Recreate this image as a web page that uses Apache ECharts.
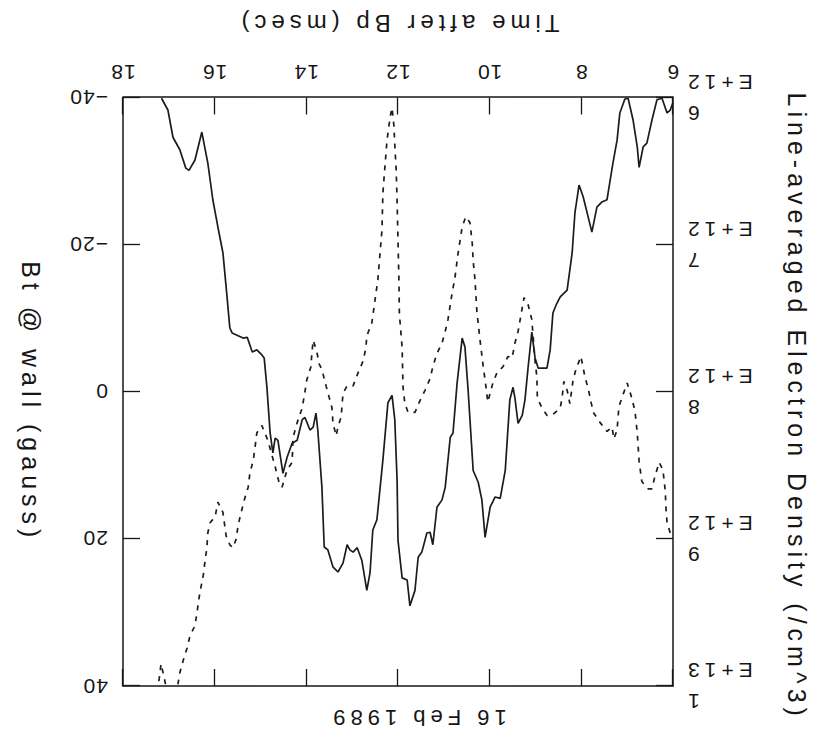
<!DOCTYPE html>
<html>
<head>
<meta charset="utf-8">
<script src="https://cdn.jsdelivr.net/npm/echarts@6/dist/echarts.min.js"></script>
<style>
  html, body { margin: 0; padding: 0; background: #fff; }
  /* The plot is drawn upright and then turned half a revolution, as on the printed page. */
  #chart { width: 835px; height: 743px; transform: rotate(180deg); }
  /* Wide plotter lettering for titles and exponent labels. */
  #chart text[style*="Helvetica"] { letter-spacing: 5px; }
  #chart text[style*="Tahoma"] { letter-spacing: 1px; }
</style>
</head>
<body>
<div id="chart"></div>
<script>
// ---- labels ----
const chartTitle = '16 Feb 1989';
const timeAxisName = 'Time after Bp (msec)';
const densityAxisName = 'Line-averaged Electron Density (/cm^3)';
const fieldAxisName = 'Bt @ wall (gauss)';

// ---- tick labels ----
const densityTicks = [6e12, 7e12, 8e12, 9e12, 1e13];
const densityTickLabels = ['6E+12', '7E+12', '8E+12', '9E+12', '1E+13'];
const fieldTicks = [-40, -20, 0, 20, 40];
const fieldTickLabels = ['\u221240', '\u221220', '0', '20', '40'];

// ---- Bt at the wall (gauss), solid trace ----
const fieldTime = [17.16,17.02,16.91,16.76,16.63,16.56,16.43,16.28,16.15,16.04,
  15.93,15.82,15.73,15.67,15.62,15.38,15.29,15.18,15.08,14.97,
  14.92,14.86,14.79,14.73,14.68,14.62,14.51,14.42,14.31,14.20,
  14.09,14.03,13.92,13.85,13.79,13.75,13.66,13.61,13.53,13.42,
  13.31,13.20,13.11,13.05,12.98,12.89,12.79,12.68,12.61,12.55,
  12.46,12.33,12.22,12.13,12.07,12.02,12.00,11.91,11.80,11.74,
  11.63,11.56,11.48,11.37,11.30,11.24,11.15,11.04,10.97,10.86,
  10.80,10.71,10.60,10.54,10.47,10.36,10.25,10.17,10.10,9.99,
  9.88,9.77,9.66,9.56,9.49,9.45,9.38,9.29,9.23,9.16,
  9.08,9.01,8.94,8.75,8.68,8.62,8.55,8.46,8.31,8.20,
  8.14,8.05,7.96,7.77,7.66,7.55,7.44,7.37,7.31,7.22,
  7.16,7.05,6.98,6.87,6.78,6.74,6.65,6.57,6.46,6.35,
  6.24,6.13,6.06,6.00];
const fieldGauss = [-39.9,-38.3,-34.6,-32.9,-30.4,-30.1,-31.5,-35.3,-31.1,-26.1,
  -22.4,-18.9,-12.9,-8.7,-8.0,-7.3,-7.4,-5.4,-5.7,-5.0,
  -4.6,-0.6,5.6,8.3,6.3,6.6,11.1,8.9,7.0,6.6,
  3.8,3.5,5.2,4.8,2.9,5.2,13.0,21.1,21.5,23.8,
  24.5,23.3,20.8,21.5,21.8,21.2,22.9,27.0,24.6,18.8,
  17.4,9.3,1.5,0.5,3.8,12.0,20.2,25.3,25.6,29.1,
  27.0,22.5,21.8,19.2,19.1,20.8,15.7,14.7,13.0,6.2,
  5.6,-1.2,-7.3,-6.1,-0.2,10.7,12.3,14.7,19.8,15.7,
  14.3,14.5,10.7,1.1,-0.6,0.8,4.3,3.2,1.1,-3.4,
  -8.1,-4.6,-3.2,-3.2,-5.7,-10.7,-11.8,-12.9,-13.8,-18.9,
  -24.3,-28.1,-26.5,-21.7,-25.1,-25.8,-26.1,-28.8,-31.1,-34.2,
  -37.9,-39.8,-39.9,-36.9,-33.3,-30.5,-33.3,-33.8,-36.9,-39.7,
  -39.9,-37.9,-38.3,-39.3];

// ---- line-averaged electron density (/cm^3), dashed trace ----
const densityTime = [17.26,17.21,17.17,17.11,17.04,16.84,16.76,16.69,16.60,16.54,
  16.43,16.39,16.34,16.30,16.25,16.21,16.17,16.15,16.10,15.99,
  15.93,15.82,15.75,15.67,15.60,15.53,15.49,15.43,15.34,15.27,
  15.23,15.16,15.12,15.08,14.97,14.84,14.68,14.60,14.53,14.42,
  14.31,14.29,14.20,14.09,14.03,13.99,13.90,13.88,13.85,13.77,
  13.72,13.66,13.57,13.50,13.44,13.42,13.35,13.31,13.24,13.20,
  13.11,12.98,12.87,12.76,12.70,12.68,12.57,12.44,12.35,12.33,
  12.28,12.24,12.17,12.13,12.09,12.07,12.04,12.02,12.00,11.98,
  11.97,11.91,11.89,11.85,11.78,11.63,11.52,11.41,11.30,11.24,
  11.15,11.04,10.97,10.91,10.82,10.76,10.69,10.60,10.52,10.43,
  10.38,10.36,10.32,10.28,10.21,10.14,10.10,10.04,9.99,9.93,
  9.84,9.71,9.60,9.51,9.45,9.38,9.25,9.16,9.08,9.01,
  8.97,8.96,8.86,8.75,8.64,8.53,8.46,8.42,8.38,8.31,
  8.25,8.18,8.12,8.01,7.92,7.85,7.74,7.59,7.44,7.33,
  7.29,7.22,7.18,7.09,7.00,6.92,6.83,6.78,6.74,6.68,
  6.54,6.46,6.39,6.30,6.22,6.17,6.15,6.13,6.06,6.00];
const densityValue = [10.04e12,9.95e12,9.85e12,9.93e12,10.04e12,10.06e12,9.91e12,9.83e12,9.74e12,9.66e12,
  9.59e12,9.51e12,9.40e12,9.33e12,9.25e12,9.15e12,9.06e12,8.96e12,8.89e12,8.85e12,
  8.75e12,8.82e12,8.98e12,9.04e12,9.06e12,9.00e12,8.91e12,8.83e12,8.72e12,8.65e12,
  8.55e12,8.47e12,8.38e12,8.28e12,8.23e12,8.33e12,8.51e12,8.61e12,8.65e12,8.53e12,
  8.48e12,8.31e12,8.21e12,8.11e12,8.00e12,7.92e12,7.83e12,7.74e12,7.65e12,7.73e12,
  7.81e12,7.85e12,7.96e12,8.04e12,8.11e12,8.21e12,8.30e12,8.24e12,8.17e12,8.01e12,
  7.96e12,7.96e12,7.87e12,7.79e12,7.70e12,7.62e12,7.53e12,7.24e12,6.90e12,6.65e12,
  6.45e12,6.29e12,6.13e12,6.07e12,6.19e12,6.32e12,6.49e12,6.70e12,6.97e12,7.24e12,
  7.47e12,7.70e12,7.97e12,8.08e12,8.14e12,8.14e12,8.06e12,7.99e12,7.91e12,7.83e12,
  7.74e12,7.67e12,7.59e12,7.51e12,7.33e12,7.23e12,7.06e12,6.88e12,6.81e12,6.85e12,
  6.99e12,7.11e12,7.24e12,7.45e12,7.65e12,7.83e12,7.92e12,8.07e12,8.01e12,7.94e12,
  7.87e12,7.83e12,7.76e12,7.77e12,7.67e12,7.59e12,7.36e12,7.41e12,7.51e12,7.79e12,
  7.90e12,8.04e12,8.11e12,8.16e12,8.16e12,8.13e12,8.11e12,8.04e12,7.93e12,7.99e12,
  8.08e12,7.92e12,7.85e12,7.76e12,7.90e12,7.98e12,8.14e12,8.21e12,8.27e12,8.24e12,
  8.32e12,8.26e12,8.10e12,8.02e12,7.94e12,8.02e12,8.13e12,8.28e12,8.47e12,8.61e12,
  8.66e12,8.66e12,8.57e12,8.48e12,8.53e12,8.67e12,8.81e12,8.89e12,8.96e12,8.93e12];

// Two lettering styles: spaced (names, title, exponent labels) and plain (numbers).
const FONT_WIDE = '"Liberation Sans", Helvetica, sans-serif';
const FONT_PLAIN = '"Liberation Sans", Tahoma, sans-serif';
const INK = '#161616';

function pairs(xs, ys) { return xs.map((x, i) => [x, ys[i]]); }
function lookup(ticks, labels, v) {
  const i = ticks.findIndex(t => Math.abs(t - v) < Math.abs(ticks[1] - ticks[0]) * 1e-6);
  return i < 0 ? '' : labels[i];
}

const axisLine = { show: true, onZero: false, lineStyle: { color: INK, width: 1.5 } };
const axisTick = { show: true, inside: true, length: 17, lineStyle: { color: INK, width: 1.3 } };
const plainLabel = { color: INK, fontFamily: FONT_PLAIN, fontSize: 21 };
const nameStyle = { color: INK, fontFamily: FONT_WIDE, fontSize: 25 };

const chart = echarts.init(document.getElementById('chart'), null,
  { renderer: 'svg', width: 835, height: 743 });

chart.setOption({
  animation: false,
  backgroundColor: '#fff',
  textStyle: { fontFamily: FONT_PLAIN },
  title: {
    text: chartTitle, left: 'center', top: 10,
    textStyle: { color: INK, fontFamily: FONT_WIDE, fontSize: 22, fontWeight: 'normal' }
  },
  grid: { left: 162, right: 123, top: 57, bottom: 97.5 },
  xAxis: [{
    type: 'value', min: 6, max: 18, interval: 2, position: 'bottom',
    name: timeAxisName, nameLocation: 'middle', nameGap: 62,
    nameTextStyle: Object.assign({}, nameStyle, { fontSize: 24 }),
    axisLine, axisTick, splitLine: { show: false },
    axisLabel: Object.assign({ margin: 15 }, plainLabel)
  }, {
    type: 'value', min: 6, max: 18, interval: 2, position: 'top',
    axisLine, axisTick, splitLine: { show: false }, axisLabel: { show: false }
  }],
  yAxis: [{
    type: 'value', min: 6e12, max: 1e13, interval: 1e12, position: 'left',
    name: densityAxisName, nameLocation: 'middle', nameRotate: 90, nameGap: 111,
    nameTextStyle: Object.assign({}, nameStyle, { padding: [0, 0, 0, 30] }),
    axisLine, axisTick, splitLine: { show: false },
    axisLabel: {
      margin: 10, align: 'right', lineHeight: 31,
      color: INK, fontFamily: FONT_WIDE, fontSize: 21,
      formatter: v => lookup(densityTicks, densityTickLabels, v).replace('E', '\nE')
    }
  }, {
    type: 'value', min: -40, max: 40, interval: 20, position: 'right',
    name: fieldAxisName, nameLocation: 'middle', nameRotate: 90, nameGap: 80,
    nameTextStyle: Object.assign({}, nameStyle, { padding: [0, 0, 0, 20] }),
    axisLine, axisTick, splitLine: { show: false },
    axisLabel: Object.assign({
      margin: 15, align: 'left',
      formatter: v => lookup(fieldTicks, fieldTickLabels, v)
    }, plainLabel)
  }],
  series: [{
    name: fieldAxisName, type: 'line', xAxisIndex: 0, yAxisIndex: 1,
    data: pairs(fieldTime, fieldGauss),
    showSymbol: false, symbol: 'none', silent: true,
    lineStyle: { color: '#1c1c1c', width: 1.7 }
  }, {
    name: densityAxisName, type: 'line', xAxisIndex: 0, yAxisIndex: 0,
    data: pairs(densityTime, densityValue),
    showSymbol: false, symbol: 'none', silent: true,
    lineStyle: { color: '#1c1c1c', width: 1.7, type: [5, 6] }
  }]
});
</script>
</body>
</html>
